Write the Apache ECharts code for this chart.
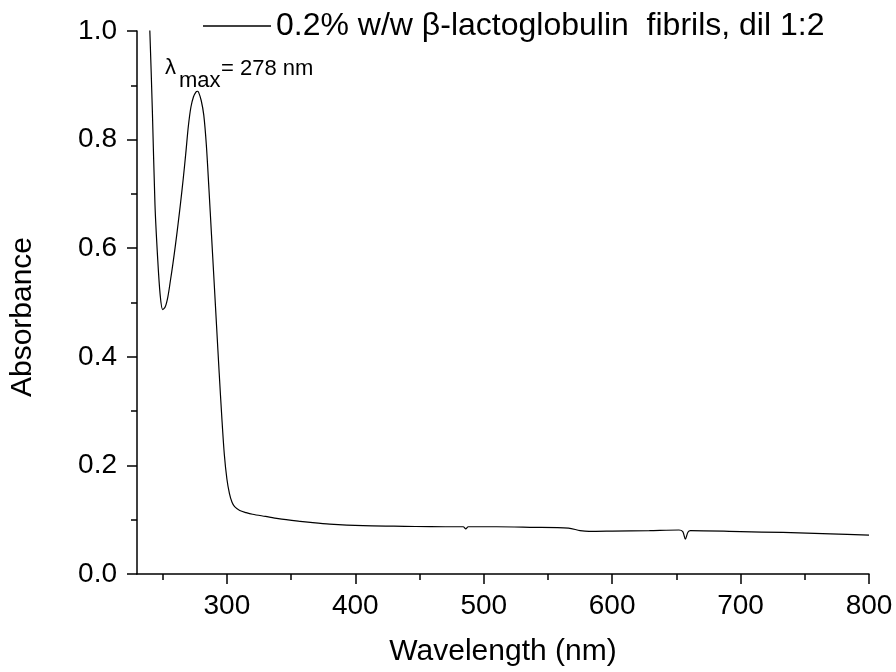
<!DOCTYPE html>
<html>
<head>
<meta charset="utf-8">
<script src="https://cdn.jsdelivr.net/npm/echarts@6/dist/echarts.min.js"></script>
<style>html,body{margin:0;padding:0;background:#fff}#c{width:896px;height:672px}</style>
</head>
<body>
<div id="c"></div>
<script>
const wavelength = [236,238,240,242,244,246,248,250,252,254,256,258,260,262,264,266,268,270,272,274,276,277,278,280,282,284,286,288,290,292,294,296,298,300,302,304,306,310,315,320,330,340,357,365,380,406,430,447,470,484,486,488,510,536,566,575,582,600,629,652,655,657,659,661,700,733,770,800];
const absorbance = [1.25,1.12,1.0,0.85,0.68,0.585,0.515,0.487,0.492,0.51,0.54,0.572,0.607,0.645,0.685,0.728,0.775,0.825,0.86,0.879,0.888,0.889,0.887,0.872,0.845,0.79,0.71,0.625,0.54,0.455,0.37,0.29,0.22,0.175,0.148,0.132,0.124,0.117,0.113,0.110,0.106,0.102,0.097,0.095,0.092,0.089,0.088,0.0875,0.087,0.087,0.083,0.087,0.087,0.086,0.0844,0.080,0.0785,0.079,0.080,0.081,0.078,0.064,0.077,0.080,0.078,0.0765,0.074,0.0716];
const xTicks = [300,400,500,600,700,800];
const xMinorTicks = [250,350,450,550,650,750];
const seriesName = '0.2% w/w \u03b2-lactoglobulin  fibrils, dil 1:2';
const xTitle = 'Wavelength (nm)';
const yTitle = 'Absorbance';
const annotation = {symbol:'\u03bb', sub:'max', rest:'= 278 nm'};

const font = 'Liberation Sans, Arial, sans-serif';
const chart = echarts.init(document.getElementById('c'));
const data = wavelength.map((w,i)=>[w, absorbance[i]]);
chart.setOption({
  animation:false,
  backgroundColor:'#fff',
  grid:{left:137,right:27,top:31,bottom:96,containLabel:false},
  legend:{left:198,top:5,icon:'rect',itemWidth:68,itemHeight:1.5,itemGap:6,
    itemStyle:{color:'#000'},
    textStyle:{fontFamily:font,fontSize:32,color:'#000'},data:[seriesName]},
  xAxis:[{type:'value',min:230,max:800,
    axisLine:{lineStyle:{color:'#000',width:1.5}},
    axisTick:{customValues:xTicks,length:10,lineStyle:{color:'#000',width:1.5}},
    axisLabel:{customValues:xTicks,fontFamily:font,fontSize:28,color:'#000',margin:18},
    splitLine:{show:false},
    name:xTitle,nameLocation:'middle',nameGap:63,
    nameTextStyle:{fontFamily:font,fontSize:30,color:'#000'}},
   {type:'value',min:230,max:800,position:'bottom',gridIndex:0,
    axisLine:{show:false},
    axisTick:{customValues:xMinorTicks,length:6,lineStyle:{color:'#000',width:1.5}},
    axisLabel:{show:false},splitLine:{show:false}}],
  yAxis:{type:'value',min:0,max:1,interval:0.2,
    axisLine:{show:true,lineStyle:{color:'#000',width:1.5}},
    axisTick:{show:true,length:10,lineStyle:{color:'#000',width:1.5}},
    minorTick:{show:true,splitNumber:2,length:6,lineStyle:{color:'#000',width:1.5}},
    axisLabel:{fontFamily:font,fontSize:28,color:'#000',margin:20,formatter:v=>v.toFixed(1)},
    splitLine:{show:false}},
  series:[{name:seriesName,type:'line',data:data,symbol:'none',smooth:0.3,clip:true,
    lineStyle:{color:'#000',width:1.2},itemStyle:{color:'#000'}}],
  graphic:[
    {type:'text',x:23,y:317,rotation:Math.PI/2,style:{text:yTitle,font:'30px '+font,fill:'#000',align:'center',verticalAlign:'middle'}},
    {type:'text',left:165,top:57,style:{text:annotation.symbol,font:'22px '+font,fill:'#000'}},
    {type:'text',left:179,top:70,style:{text:annotation.sub,font:'22px '+font,fill:'#000'}},
    {type:'text',left:221,top:58,style:{text:annotation.rest,font:'22px '+font,fill:'#000'}}
  ]
});
</script>
</body>
</html>
